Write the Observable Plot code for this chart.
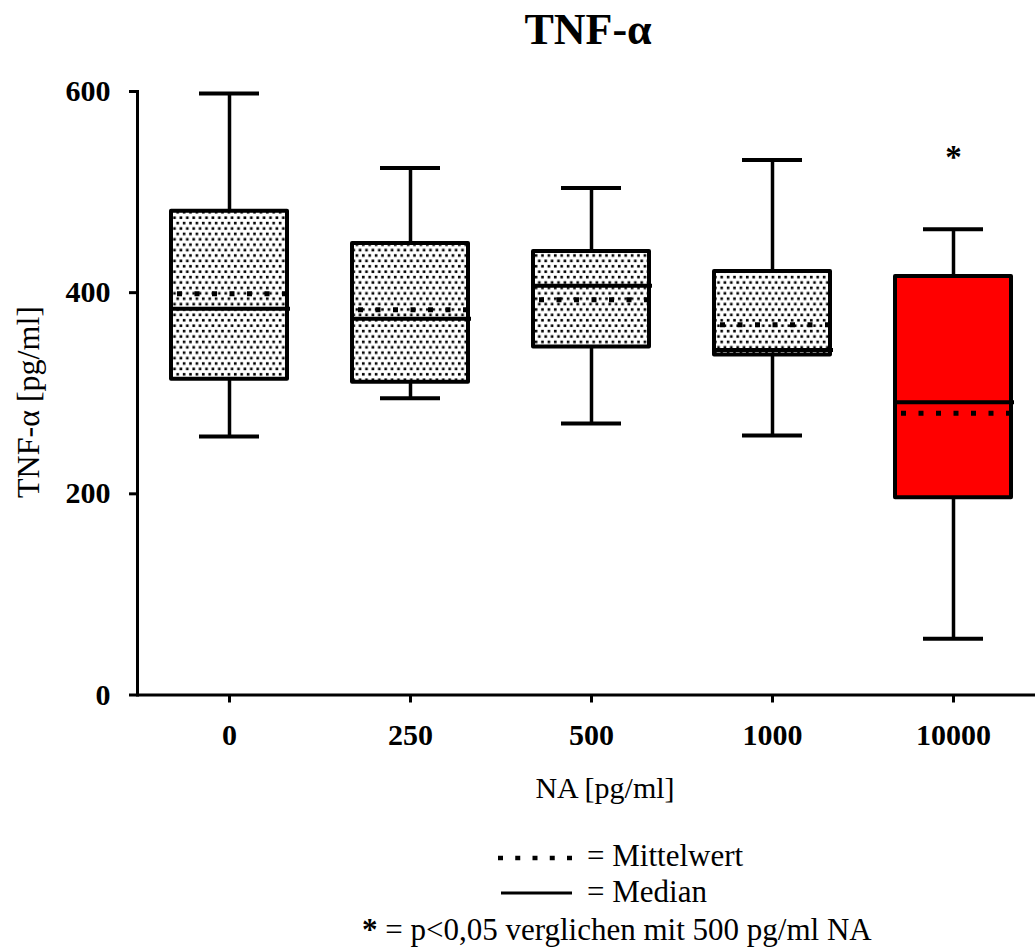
<!DOCTYPE html>
<html><head><meta charset="utf-8">
<script src="https://cdn.jsdelivr.net/npm/d3@7"></script>
<script src="https://cdn.jsdelivr.net/npm/@observablehq/plot@0.6"></script>
<style>
html,body{margin:0;padding:0;background:#fff;overflow:hidden;}
#wrap{position:relative;width:1035px;height:951px;overflow:hidden;font-family:"Liberation Serif","Times New Roman",serif;color:#000;-webkit-font-smoothing:antialiased;}
.t{position:absolute;white-space:nowrap;line-height:1;color:#000;}
#chart svg{max-width:none !important;height:770px !important;}
</style></head><body>
<div id="wrap">
<svg width="0" height="0" style="position:absolute"><defs>
<pattern id="dots" patternUnits="userSpaceOnUse" width="6.4" height="10.8">
<rect width="6.4" height="10.8" fill="#fff"/>
<rect x="0.4" y="0.4" width="2.6" height="2.6" fill="#000"/>
<rect x="3.6" y="5.8" width="2.6" height="2.6" fill="#000"/>
</pattern></defs></svg>
<div id="chart" style="position:absolute;left:0;top:0;width:1044px"></div>
<div class="t" id="title" style="font-size:44px;font-weight:bold;left:588px;top:8px;transform:translateX(-50%)">TNF-α</div>
<div class="t" id="xlab" style="font-size:30px;left:605px;top:773px;transform:translateX(-50%)">NA [pg/ml]</div>
<svg style="position:absolute;left:0;top:0" width="1035" height="951">
<text transform="translate(39,402) rotate(-90)" text-anchor="middle" fill="#000" font-size="32" style="text-rendering:geometricPrecision" font-family="Liberation Serif, Times New Roman, serif">TNF-α [pg/ml]</text>
<line x1="498" x2="572" y1="858" y2="858" stroke="#000" stroke-width="4.5" stroke-dasharray="5,12.25"/>
<line x1="501" x2="572" y1="893" y2="893" stroke="#000" stroke-width="3"/>
</svg>
<div class="t" style="font-size:31px;left:587px;top:840px">= Mittelwert</div>
<div class="t" style="font-size:31px;left:587px;top:876px">= Median</div>
<div class="t" style="font-size:31px;left:362px;top:914px"><b>*</b> = p&lt;0,05 verglichen mit 500 pg/ml NA</div>
</div>
<script>
const doses = ["0", "250", "500", "1000", "10000"];
const whiskerMin = [257, 295, 270, 258, 56];
const q1 = [314, 311, 346, 338, 196];
const median = [384, 374, 407, 343, 291];
const mean = [399, 383, 393, 368, 280];
const q3 = [481, 449, 441, 421, 416];
const whiskerMax = [598, 524, 504, 532, 463];
const significant = [false, false, false, false, true];
const sigMarks = [{dose: "10000", y: 539, label: "*"}];
const yTicks = [0, 200, 400, 600];

const stats = doses.map((d, i) => ({
  dose: d, lo: whiskerMin[i], q1: q1[i], med: median[i], mean: mean[i],
  q3: q3[i], hi: whiskerMax[i], sig: significant[i]
}));

const chart = Plot.plot({
  width: 1044, height: 770,
  marginLeft: 137, marginRight: 0, marginTop: 91, marginBottom: 75.5,
  style: {fontFamily: "Liberation Serif, Times New Roman, serif", background: "transparent", color: "#000", overflow: "visible", maxWidth: "none"},
  x: {type: "band", domain: doses, paddingInner: 0.36, paddingOuter: 0.18, label: null},
  y: {domain: [0, 600], label: null},
  marks: [
    Plot.ruleX(stats, {x: "dose", y1: "lo", y2: "q1", stroke: "#000", strokeWidth: 3.5}),
    Plot.ruleX(stats, {x: "dose", y1: "q3", y2: "hi", stroke: "#000", strokeWidth: 3.5}),
    Plot.tickY(stats, {x: "dose", y: "lo", insetLeft: 28, insetRight: 28, stroke: "#000", strokeWidth: 4}),
    Plot.tickY(stats, {x: "dose", y: "hi", insetLeft: 28, insetRight: 28, stroke: "#000", strokeWidth: 4}),
    Plot.barY(stats.filter(d => !d.sig), {x: "dose", y1: "q1", y2: "q3", fill: "url(#dots)", stroke: "#000", strokeWidth: 4, strokeLinejoin: "round"}),
    Plot.barY(stats.filter(d => d.sig), {x: "dose", y1: "q1", y2: "q3", fill: "#ff0000", stroke: "#000", strokeWidth: 4, strokeLinejoin: "round"}),
    Plot.tickY(stats, {x: "dose", y: "med", stroke: "#000", strokeWidth: 4, insetRight: -3}),
    Plot.tickY(stats, {x: "dose", y: "mean", stroke: "#000", strokeWidth: 5, strokeDasharray: "5,12.5", insetLeft: 6}),
    Plot.text(sigMarks, {x: "dose", y: "y", text: "label", fontSize: 33, fontWeight: "bold", dy: 5}),
    Plot.ruleY([0], {stroke: "#000", strokeWidth: 3}),
    Plot.frame({anchor: "left", stroke: "#000", strokeWidth: 3}),
    Plot.axisY({ticks: yTicks, tickSize: 8, tickPadding: 19, fontSize: 30, fontWeight: "bold", stroke: "#000", strokeWidth: 3, label: null}),
    Plot.axisX({tickSize: 8, tickPadding: 21, fontSize: 30, fontWeight: "bold", stroke: "#000", strokeWidth: 3, label: null})
  ]
});
chart.style.maxWidth = "none";
document.getElementById("chart").appendChild(chart);
</script>
</body></html>
